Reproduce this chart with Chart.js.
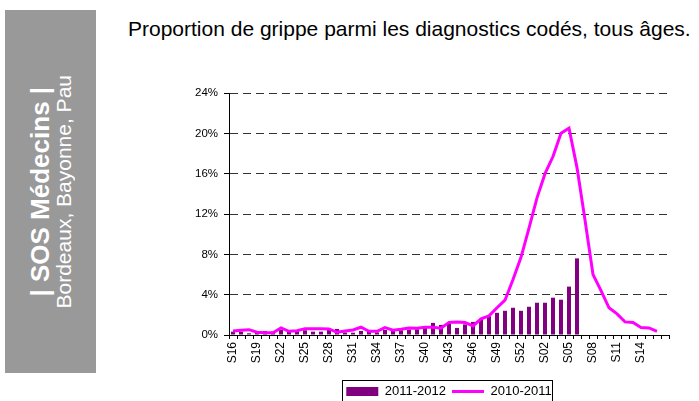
<!DOCTYPE html>
<html>
<head>
<meta charset="utf-8">
<script src="https://cdn.jsdelivr.net/npm/chart.js@4/dist/chart.umd.min.js"></script>
<style>
  html, body { margin: 0; padding: 0; background: #fff; }
  body { width: 699px; height: 401px; position: relative; overflow: hidden;
         font-family: "Liberation Sans", Arial, sans-serif; }
  #side { position: absolute; left: 5px; top: 10px; width: 91px; height: 363px;
          background: #999999; display: flex; align-items: center; justify-content: center; }
  #side .txt { writing-mode: vertical-rl; transform: rotate(180deg); color: #fff;
               text-align: center; white-space: nowrap; }
  #side .b { font-weight: bold; font-size: 26px; line-height: 26px; }
  #side .r { font-size: 21px; line-height: 21px; }
  #title { position: absolute; left: 128px; top: 17px; font-size: 21px; line-height: 24px;
           color: #000; white-space: nowrap; }
  #wrap { position: absolute; left: 0; top: 0; width: 699px; height: 401px; }
</style>
</head>
<body>
<div id="side"><div class="txt"><div class="b">| SOS Médecins |</div><div class="r">Bordeaux, Bayonne, Pau</div></div></div>
<div id="title">Proportion de grippe parmi les diagnostics codés, tous âges.</div>
<div id="wrap"><canvas id="chart"></canvas></div>
<script>
// weeks (S16 -> S17 of the following year)
var weeks = ["S16","S17","S18","S19","S20","S21","S22","S23","S24","S25","S26","S27","S28","S29",
  "S30","S31","S32","S33","S34","S35","S36","S37","S38","S39","S40","S41","S42","S43","S44","S45",
  "S46","S47","S48","S49","S50","S51","S52","S53","S01","S02","S03","S04","S05","S06","S07","S08",
  "S09","S10","S11","S12","S13","S14","S15","S16","S17"];

// % flu among coded diagnoses
var season2011_2012 = [0.33,0.33,0.17,0.2,0.4,0.33,0.5,0.33,0.4,0.47,0.33,0.33,0.5,0.6,
  0.25,0.23,0.4,0.5,0.25,0.5,0.4,0.47,0.53,0.57,0.85,1.2,1.0,1.1,0.7,1.05,
  1.3,1.6,1.85,2.2,2.4,2.7,2.4,2.8,3.2,3.2,3.7,3.5,4.8,7.6];
var season2010_2011 = [0.4,0.47,0.53,0.27,0.23,0.23,0.7,0.37,0.43,0.63,0.63,0.63,0.6,0.27,
  0.4,0.5,0.77,0.37,0.37,0.73,0.47,0.57,0.7,0.67,0.77,0.77,0.67,1.25,1.3,1.25,
  0.9,1.6,1.9,2.7,3.45,5.5,7.7,10.6,13.6,16.0,17.7,20.0,20.5,16.6,11.4,6.0,
  4.4,2.7,2.1,1.3,1.25,0.75,0.7,0.35,null];

var yTicks = [0, 4, 8, 12, 16, 20, 24];

(function () {
  Chart.defaults.font.family = "'Liberation Sans', Arial, sans-serif";
  Chart.defaults.color = "#000";

  // draws the thin frame round the legend
  var legendFrame = {
    id: "legendFrame",
    afterDraw: function (chart) {
      var lg = chart.legend;
      if (!lg || !lg.legendHitBoxes || !lg.legendHitBoxes.length) return;
      var hb = lg.legendHitBoxes, x0 = Infinity, x1 = -Infinity, y0 = Infinity, y1 = -Infinity;
      hb.forEach(function (h) {
        x0 = Math.min(x0, h.left); x1 = Math.max(x1, h.left + h.width);
        y0 = Math.min(y0, h.top); y1 = Math.max(y1, h.top + h.height);
      });
      var ctx = chart.ctx;
      ctx.save();
      ctx.strokeStyle = "#000";
      ctx.lineWidth = 1;
      ctx.strokeRect(Math.round(x0 - 4) + 0.5, Math.round(y0 - 5) + 0.5,
                     Math.round(x1 - x0 + 5), Math.round(y1 - y0 + 9));
      ctx.restore();
    }
  };

  new Chart(document.getElementById("chart"), {
    type: "bar",
    data: {
      labels: weeks,
      datasets: [
        { type: "bar", label: "2011-2012", data: season2011_2012, backgroundColor: "#800080",
          borderWidth: 0, barPercentage: 0.5, categoryPercentage: 1.0, order: 1 },
        { type: "line", label: "2010-2011", data: season2010_2011, borderColor: "#ff00ff",
          backgroundColor: "#ff00ff", borderWidth: 3, pointRadius: 0, tension: 0,
          fill: false, spanGaps: false, order: 0 }
      ]
    },
    plugins: [legendFrame],
    options: {
      responsive: true,
      maintainAspectRatio: false,
      animation: false,
      layout: { padding: { left: 185, right: 30, top: 93, bottom: -7 } },
      plugins: {
        tooltip: { enabled: false },
        legend: {
          position: "bottom",
          fullSize: false,
          labels: {
            usePointStyle: true, pointStyleWidth: 32, boxHeight: 9, padding: 6,
            font: { size: 13 }, color: "#000",
            sort: function (a, b) { return a.datasetIndex - b.datasetIndex; },
            generateLabels: function (chart) {
              var items = Chart.defaults.plugins.legend.labels.generateLabels(chart);
              items.forEach(function (it) {
                it.pointStyle = it.datasetIndex === 1 ? "line" : "rect";
              });
              return items;
            }
          }
        }
      },
      scales: {
        x: {
          offset: true,
          grid: { offset: true, drawOnChartArea: false, drawTicks: true, tickLength: 4,
                  tickColor: "#000" },
          border: { color: "#000", width: 1 },
          ticks: {
            autoSkip: false, maxRotation: 90, minRotation: 90, padding: 3,
            font: { size: 12 }, color: "#000",
            callback: function (v, i) { return i % 3 === 0 && i < weeks.length - 1 ? weeks[i] : ""; }
          },
          afterFit: function (s) { s.height = 44; }
        },
        y: {
          min: 0, max: 24,
          afterBuildTicks: function (s) { s.ticks = yTicks.map(function (v) { return { value: v }; }); },
          grid: {
            color: function (c) { return c.tick && c.tick.value === 0 ? "rgba(0,0,0,0)" : "#333"; },
            lineWidth: 1, tickLength: 5, tickColor: "#000", tickBorderDash: []
          },
          border: { color: "#000", width: 1, dash: [8, 5] },
          ticks: { padding: 6, font: { size: 11.5 }, color: "#000",
                   callback: function (v) { return v + "%"; } },
          afterFit: function (s) { s.width = 44; }
        }
      }
    }
  });
})();
</script>
</body>
</html>
